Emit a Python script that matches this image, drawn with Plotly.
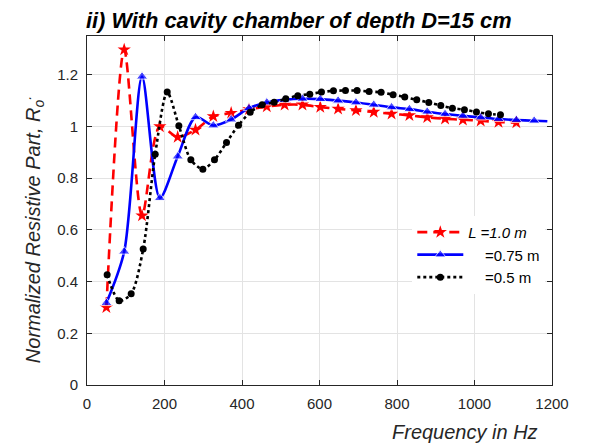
import plotly.graph_objects as go

# ---- data ----
red_f = [50, 96, 142, 188, 234, 280, 326, 372, 418, 464, 510, 556, 602, 648,
         694, 740, 786, 832, 878, 924, 970, 1016, 1062, 1108]
red_R = [0.300, 1.297, 0.655, 1.000, 0.959, 0.987, 1.039, 1.052, 1.066, 1.077,
         1.084, 1.084, 1.075, 1.068, 1.062, 1.056, 1.049, 1.043, 1.035, 1.030,
         1.026, 1.022, 1.017, 1.015]

blue_f = [50, 96, 142, 188, 234, 280, 326, 372, 418, 464, 510, 556, 602, 648,
          694, 740, 786, 832, 878, 924, 970, 1016, 1062, 1108, 1154, 1188]
blue_R = [0.317, 0.516, 1.193, 0.723, 0.884, 1.036, 1.004, 1.027, 1.071, 1.093,
          1.103, 1.107, 1.106, 1.100, 1.093, 1.084, 1.074, 1.067, 1.057, 1.048,
          1.041, 1.035, 1.029, 1.025, 1.022, 1.020]
blue_marker_on = [1] * 25 + [0]

black_f = [52, 83, 114, 145, 176, 207, 237, 268, 299, 329, 360, 391, 421, 452,
           483, 513, 544, 575, 605, 636, 667, 697, 728, 759, 790, 820, 851, 882,
           913, 943, 974, 1005, 1036, 1067]
black_R = [0.426, 0.326, 0.353, 0.526, 0.893, 1.133, 1.003, 0.871, 0.835, 0.871,
           0.938, 1.005, 1.055, 1.084, 1.094, 1.107, 1.119, 1.125, 1.133, 1.138,
           1.139, 1.139, 1.135, 1.132, 1.123, 1.114, 1.103, 1.093, 1.081, 1.071,
           1.065, 1.056, 1.049, 1.045]

x_ticks = [0, 200, 400, 600, 800, 1000, 1200]
y_ticks = [0, 0.2, 0.4, 0.6, 0.8, 1.0, 1.2]
y_tick_text = ["0", "0.2", "0.4", "0.6", "0.8", "1", "1.2"]

names = ["<i>L =1.0 m</i>", "\u00a0\u00a0\u00a0\u00a0=0.75 m", "\u00a0\u00a0\u00a0\u00a0=0.5 m"]
title_text = "<b><i>ii) With cavity chamber of depth D=15 cm</i></b>"
xlabel = "<i>Frequency in Hz</i>"
ylabel = "<i>Normalized Resistive Part, R<sub>o</sub><sup>.</sup></i>"

FONT = "Liberation Sans, Arial, sans-serif"
AX = "#262626"

fig = go.Figure()
fig.add_trace(go.Scatter(
    x=red_f, y=red_R, mode="lines+markers", name=names[0],
    line=dict(color="#ff0000", width=2.6, dash="10px,6px", shape="spline", smoothing=0.8),
    marker=dict(symbol="star", size=10, color="#ff0000"),
))
fig.add_trace(go.Scatter(
    x=blue_f, y=blue_R, mode="lines+markers", name=names[1],
    line=dict(color="#0000ff", width=2.6, shape="spline", smoothing=0.8),
    marker=dict(symbol="triangle-up", size=[10 * m for m in blue_marker_on], color="#0000ff"),
))
fig.add_trace(go.Scatter(
    x=black_f, y=black_R, mode="lines+markers", name=names[2],
    line=dict(color="#000000", width=2.6, dash="dot", shape="spline", smoothing=0.8),
    marker=dict(symbol="circle", size=7, color="#000000"),
))

L, R, T, B = 86.7, 43.3, 36.0, 57.8
W, H = 595, 443
pw, ph = W - L - R, H - T - B

def px_x(x):
    return (x - L) / pw

def px_y(y):
    return (H - B - y) / ph

fig.update_layout(
    width=W, height=H,
    margin=dict(l=L, r=R, t=T, b=B, pad=0),
    paper_bgcolor="white", plot_bgcolor="white",
    font=dict(family=FONT, color=AX),
    showlegend=True,
    legend=dict(
        x=px_x(412), y=px_y(216), xanchor="left", yanchor="top",
        bgcolor="white", borderwidth=0, font=dict(size=15, color="#000000", family=FONT),
        tracegroupgap=0, itemwidth=46,
    ),
    xaxis=dict(
        range=[0, 1200], tickmode="array", tickvals=x_ticks,
        ticks="inside", ticklen=5, tickcolor=AX, showline=True, linecolor=AX,
        linewidth=1, mirror="ticks", showgrid=True, gridcolor="#e3e3e3",
        gridwidth=1, zeroline=False, tickfont=dict(size=15, color=AX, family=FONT),
        ticklabelstandoff=5,
    ),
    yaxis=dict(
        range=[0, 1.35], tickmode="array", tickvals=y_ticks, ticktext=y_tick_text,
        ticks="inside", ticklen=5, tickcolor=AX, showline=True, linecolor=AX,
        linewidth=1, mirror="ticks", showgrid=True, gridcolor="#e3e3e3",
        gridwidth=1, zeroline=False, tickfont=dict(size=15, color=AX, family=FONT),
        ticklabelstandoff=5,
    ),
    annotations=[
        dict(text=title_text, xref="paper", yref="paper", x=px_x(84), y=px_y(20),
             xanchor="left", yanchor="middle", showarrow=False,
             font=dict(size=21.8, color="#000000", family=FONT)),
        dict(text=xlabel, xref="paper", yref="paper", x=px_x(540), y=px_y(432),
             xanchor="right", yanchor="middle", showarrow=False,
             font=dict(size=20, color=AX, family=FONT)),
        dict(text=ylabel, xref="paper", yref="paper", x=px_x(33), y=px_y(230),
             xanchor="center", yanchor="middle", showarrow=False, textangle=-90,
             font=dict(size=20, color=AX, family=FONT)),
    ],
)

fig.write_html("out.html")
